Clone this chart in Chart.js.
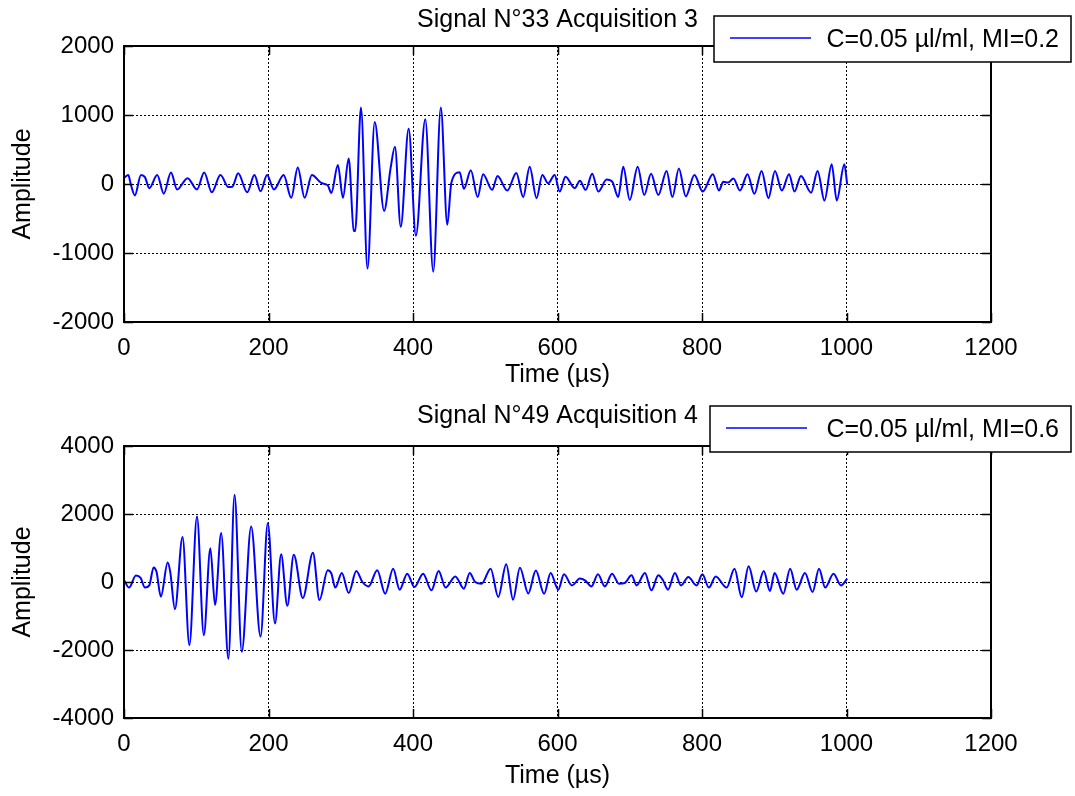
<!DOCTYPE html>
<html>
<head>
<meta charset="utf-8">
<script src="https://cdn.jsdelivr.net/npm/chart.js@4.4.0/dist/chart.umd.min.js"></script>
<style>
  html, body { margin: 0; padding: 0; background: #fff; }
  #wrap { position: relative; width: 1075px; height: 796px; }
  .panel { position: absolute; left: 0; }
</style>
</head>
<body>
<div id="wrap">
  <canvas id="topChart" class="panel" style="top:0" width="1075" height="390"></canvas>
  <canvas id="bottomChart" class="panel" style="top:390px" width="1075" height="406"></canvas>
</div>
<script>
// ticks
const timeTicks = [0, 200, 400, 600, 800, 1000, 1200];
const topAmpTicks = [-2000, -1000, 0, 1000, 2000];
const bottomAmpTicks = [-4000, -2000, 0, 2000, 4000];

// Signal N°33, acquisition 3 (extrema only)
const topTime = [
  0, 6, 9.5, 15, 23.5, 29, 35, 46, 55, 65, 73.5, 88, 101, 111, 121.5, 133.5, 144.5, 150,
  158, 170.5, 180.5, 189, 198, 207.5, 221, 231.5, 240.5, 250, 260, 273, 282, 287, 296,
  303, 311, 318, 320, 328, 337, 347, 360, 369, 375, 383, 394, 404, 417, 428, 438.5,
  447.5, 453, 464.5, 470.5, 480, 489.5, 497, 509.5, 517, 530.5, 543, 552.5, 561.5, 571,
  579, 587, 596, 603, 611, 624, 631, 639, 648, 656.5, 668, 676, 684, 691, 700, 711, 720,
  729.5, 739.5, 751, 759, 768, 777.5, 789.5, 801, 815, 823.5, 829.5, 836, 843.5, 852.5,
  863, 872.5, 882.5, 892, 901, 910.5, 920.5, 928, 937, 951, 960, 969.5, 979.5, 986.5,
  997, 1001
];
const topAmp = [
  90, 130, -10, -165, 130, 100, -60, 130, -140, 165, -80, 85, -80, 165, -120, 130, -45, -40,
  155, -120, 130, -105, 130, -80, 130, -200, 240, -200, 130, 15, -20, -130, 275,
  -200, 370, -675, -680, 1110, -1225, 900, -390, 230, 540, -620, 800, -750, 940, -1270, 1110,
  -590, 15, 170, -70, 200, -190, 143, -85, 115, -95, 160, -190, 250, -205,
  130, 10, 130, -110, 105, -60, 48, -85, 150, -110, 65, 30, -190, 250, -230, 250, -160,
  150, -160, 190, -190, 225, -180, 130, -110, 143, -95, 33, 20, 80, -95,
  143, -143, 190, -205, 190, -95, 143, -110, 115, -125, 190, -240, 285, -240,
  285, -10
];

// Signal N°49, acquisition 4
const bottomTime = [
  0, 7, 16.5, 23, 29, 35, 41, 45, 51, 60.5, 64, 70.5, 81, 90.5, 101, 110.5, 119.5, 126,
  134.5, 144.5, 153, 163, 176, 189, 199, 209, 217.5, 226, 235, 247.5, 261.5, 270.5, 282,
  287, 292.5, 301.5, 311, 321.5, 330, 338.5, 350.5, 361.5, 372.5, 381.5, 392, 402, 414,
  425.5, 435.5, 445, 458.5, 470.5, 478.5, 486, 495, 507.5, 518, 529, 538.5, 548, 559.5,
  570, 581.5, 590.5, 601, 609, 620, 631, 638, 647, 656, 665.5, 675.5, 685, 693, 702.5,
  709.5, 721, 730, 739.5, 746, 753, 762.5, 771, 781, 792.5, 800.5, 809.5, 819, 834, 845,
  855, 864.5, 875, 885.5, 894, 900.5, 912.5, 922, 931, 942.5, 953, 962, 970.5, 982, 992.5,
  1001
];
const bottomAmp = [
  60, -165, 190, 120, -165, -100, 430, 300, -430, 575, 300, -800, 1320, -1855, 1925, -1565, 990, -675,
  1440, -2260, 2565, -2050, 1635, -1605, 1730, -1220, 815, -700, 800, -470, 860, -530, 345,
  250, -165, 265, -325, 325, 0, -130, 345, -345, 390, -225, 245, -150, 245,
  -245, 325, -165, 165, -195, 265, 0, -50, 390, -440, 520, -520, 420, -335,
  335, -345, 265, -225, 225, -100, 100, 50, -130, 225, -130, 245, -50, -30, 195,
  -100, 265, -245, 195, 50, -225, 265, -100, 145, -100, 225, -165, 165, -165, 390,
  -450, 460, -280, 325, -265, 265, -345, 390, -225, 265, -295, 390, -165, 245, -100,
  100
];

Chart.defaults.font.family = '"Liberation Sans", Arial, sans-serif';
Chart.defaults.color = "#000";

const FONT = '25px "Liberation Sans", Arial, sans-serif';

// MATLAB-ish axes box, inward ticks, title and legend
const framePlugin = {
  id: "frame",
  afterDraw(chart, args, o) {
    const { ctx, chartArea: a, scales } = chart;
    ctx.save();

    ctx.strokeStyle = "#000";
    ctx.lineWidth = 1.5;
    ctx.beginPath();
    scales.x.ticks.forEach((t) => {
      const px = Math.round(scales.x.getPixelForValue(t.value)) + 0.5;
      ctx.moveTo(px, a.bottom);
      ctx.lineTo(px, a.bottom - 9);
      ctx.moveTo(px, a.top);
      ctx.lineTo(px, a.top + 9);
    });
    scales.y.ticks.forEach((t) => {
      const py = Math.round(scales.y.getPixelForValue(t.value)) + 0.5;
      ctx.moveTo(a.left, py);
      ctx.lineTo(a.left + 9, py);
      ctx.moveTo(a.right, py);
      ctx.lineTo(a.right - 9, py);
    });
    ctx.stroke();

    ctx.lineWidth = 2;
    ctx.strokeRect(a.left, a.top, a.right - a.left, a.bottom - a.top);

    ctx.fillStyle = "#000";
    ctx.font = FONT;
    ctx.textAlign = "center";
    ctx.textBaseline = "middle";
    ctx.fillText(o.title, (a.left + a.right) / 2, o.titleY);

    const L = o.legend;
    const ds = chart.data.datasets[0];
    ctx.fillStyle = "#fff";
    ctx.fillRect(L.x, L.y, L.w, L.h);
    ctx.strokeStyle = "#000";
    ctx.lineWidth = 1.5;
    ctx.strokeRect(L.x, L.y, L.w, L.h);
    ctx.strokeStyle = ds.borderColor;
    ctx.beginPath();
    ctx.moveTo(L.x + 16, L.y + 22);
    ctx.lineTo(L.x + 97, L.y + 22);
    ctx.stroke();
    ctx.fillStyle = "#000";
    ctx.textAlign = "right";
    ctx.fillText(ds.label, L.x + L.w - 12, L.y + L.h / 2 + 1);

    ctx.restore();
  }
};

function makeChart(id, cfg) {
  const points = cfg.time.map((t, i) => ({ x: t, y: cfg.amp[i] }));
  return new Chart(document.getElementById(id), {
    type: "line",
    data: {
      datasets: [
        {
          label: cfg.label,
          data: points,
          borderColor: "#0000ff",
          borderWidth: 2,
          pointRadius: 0,
          fill: false,
          cubicInterpolationMode: "monotone"
        }
      ]
    },
    options: {
      responsive: false,
      animation: false,
      layout: { padding: { top: cfg.areaTop, right: 84, left: 0, bottom: 0 } },
      scales: {
        x: {
          type: "linear",
          min: 0,
          max: 1200,
          afterBuildTicks: (s) => { s.ticks = timeTicks.map((v) => ({ value: v })); },
          afterFit: (s) => { s.height = cfg.xHeight; },
          grid: { color: "#000", lineWidth: 1, drawTicks: false },
          border: { display: false, dash: [2, 2] },
          ticks: { font: { size: 24 }, padding: 12, maxRotation: 0, callback: (v) => String(v) },
          title: { display: true, text: "Time (µs)", font: { size: 25 }, padding: { top: 0, bottom: cfg.xTitlePad } }
        },
        y: {
          type: "linear",
          min: cfg.yTicks[0],
          max: cfg.yTicks[cfg.yTicks.length - 1],
          afterBuildTicks: (s) => { s.ticks = cfg.yTicks.map((v) => ({ value: v })); },
          afterFit: (s) => { s.width = 124; },
          grid: { color: "#000", lineWidth: 1, drawTicks: false },
          border: { display: false, dash: [2, 2] },
          ticks: { font: { size: 24 }, padding: 10, callback: (v) => String(v) },
          title: { display: true, text: "Amplitude", font: { size: 25 }, padding: { top: 8, bottom: 0 } }
        }
      },
      plugins: {
        legend: { display: false },
        tooltip: { enabled: false },
        frame: { title: cfg.title, titleY: cfg.titleY, legend: cfg.legend }
      }
    },
    plugins: [framePlugin]
  });
}

makeChart("topChart", {
  label: "C=0.05 µl/ml, MI=0.2",
  title: "Signal N°33 Acquisition 3",
  time: topTime,
  amp: topAmp,
  yTicks: topAmpTicks,
  areaTop: 46,
  xHeight: 68,
  xTitlePad: 0,
  titleY: 20,
  legend: { x: 714, y: 16, w: 357, h: 46 }
});

makeChart("bottomChart", {
  label: "C=0.05 µl/ml, MI=0.6",
  title: "Signal N°49 Acquisition 4",
  time: bottomTime,
  amp: bottomAmp,
  yTicks: bottomAmpTicks,
  areaTop: 56,
  xHeight: 78,
  xTitlePad: 5,
  titleY: 26,
  legend: { x: 710, y: 16, w: 361, h: 46 }
});
</script>
</body>
</html>
